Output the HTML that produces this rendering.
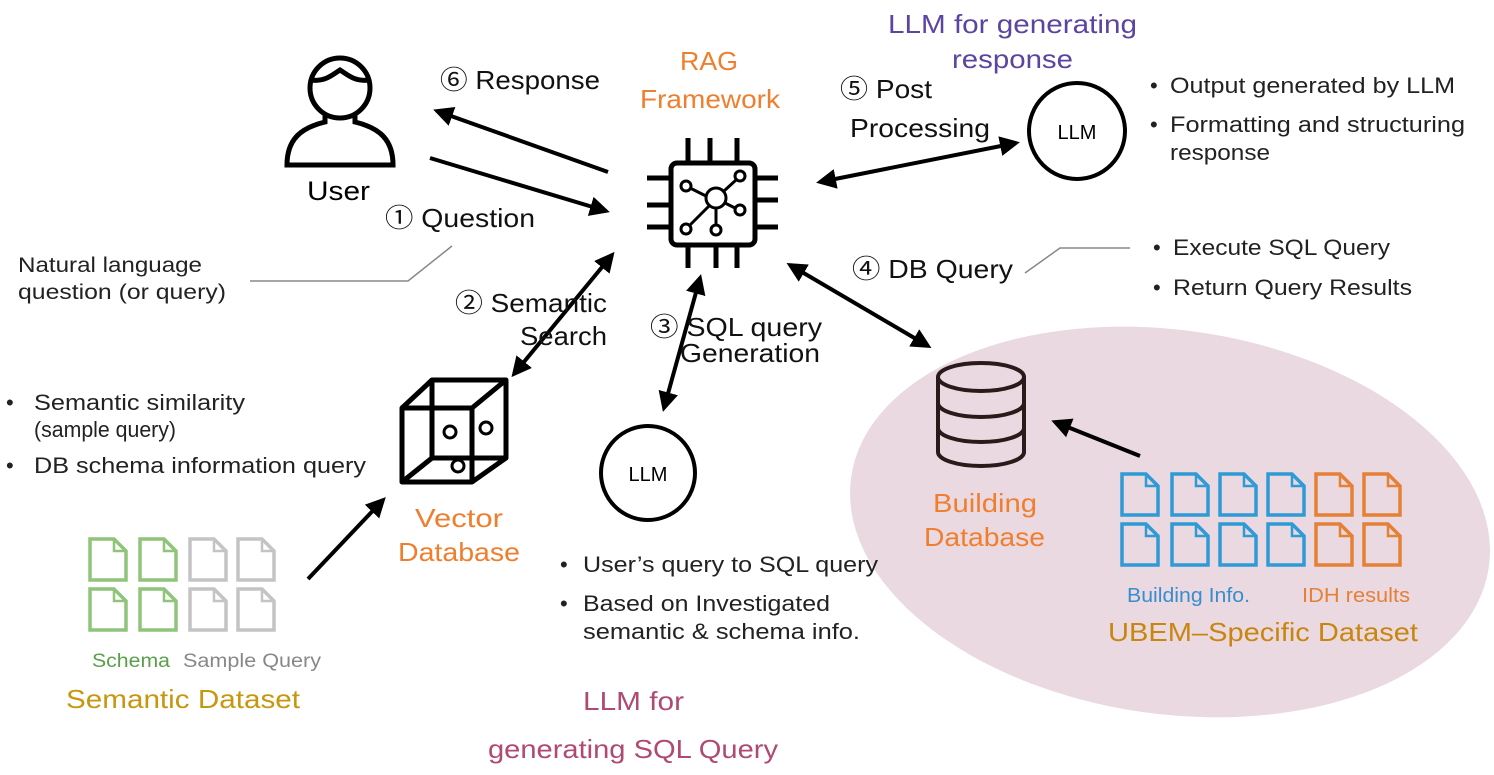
<!DOCTYPE html>
<html><head><meta charset="utf-8"><style>
html,body{margin:0;padding:0;background:#fff;}
svg{display:block;}
text{font-family:"Liberation Sans","Noto Sans CJK KR",sans-serif;}
</style></head><body>
<svg width="1494" height="775" viewBox="0 0 1494 775" xmlns="http://www.w3.org/2000/svg">
<defs>
<marker id="a" viewBox="0 0 10 10" refX="8" refY="5" markerWidth="5" markerHeight="5" orient="auto-start-reverse"><path d="M0,0 L10,5 L0,10 z" fill="#000"/></marker>
<g id="doc"><path d="M2,2 H26 L38,14 V43 H2 Z" fill="none" stroke-width="3.5"/><path d="M26,2 V14 H38" fill="none" stroke-width="2.5"/></g>
</defs>
<ellipse cx="1170" cy="522" rx="322" ry="192" transform="rotate(8 1170 522)" fill="#ead9e1"/>

<!-- User icon -->
<g fill="none" stroke="#000" stroke-width="5">
<circle cx="340" cy="88" r="30"/>
<path d="M311,80 C325,82 332,75 340,70 C348,75 355,82 369,80"/>
<path d="M325,115 V122 C300,128 287,140 287,165 H393 C393,140 380,128 355,122 V115"/>
</g>
<text x="307" y="200" font-size="27" textLength="63" lengthAdjust="spacingAndGlyphs">User</text>

<!-- Chip icon -->
<g fill="none" stroke="#000" stroke-width="5">
<rect x="671" y="163" width="84" height="82" rx="6"/>
<path d="M688,138 V162 M710,138 V162 M737,138 V162 M688,246 V268 M716,246 V268 M737,246 V268 M647,178 H670 M647,205 H670 M647,227 H670 M756,178 H778 M756,200 H778 M756,227 H778"/>
</g>
<g fill="none" stroke="#000" stroke-width="3">
<circle cx="716" cy="198" r="10"/><circle cx="686" cy="186" r="5"/><circle cx="740" cy="176" r="5"/><circle cx="740" cy="210" r="5"/><circle cx="686" cy="229" r="5"/><circle cx="716" cy="230" r="5"/>
<path d="M690,188 L706,196 M724,191 L736,180 M725,203 L735,208 M709,206 L690,225 M716,208 V225"/>
</g>
<g font-size="26" fill="#ef7f2f" lengthAdjust="spacingAndGlyphs">
<text x="680" y="70" textLength="58" lengthAdjust="spacingAndGlyphs">RAG</text>
<text x="640" y="108" textLength="140" lengthAdjust="spacingAndGlyphs">Framework</text>
</g>

<!-- Arrows -->
<g stroke="#000" stroke-width="4" fill="none">
<line x1="608" y1="172" x2="437" y2="111" marker-end="url(#a)"/>
<line x1="430" y1="158" x2="606" y2="211" marker-end="url(#a)"/>
<line x1="820" y1="182" x2="1016" y2="143" marker-start="url(#a)" marker-end="url(#a)"/>
<line x1="790" y1="265" x2="928" y2="346" marker-start="url(#a)" marker-end="url(#a)"/>
<line x1="612" y1="255" x2="514" y2="374" marker-start="url(#a)" marker-end="url(#a)"/>
<line x1="700" y1="278" x2="664" y2="408" marker-start="url(#a)" marker-end="url(#a)"/>
<line x1="308" y1="579" x2="383" y2="500" marker-end="url(#a)"/>
<line x1="1140" y1="456" x2="1055" y2="422" marker-end="url(#a)"/>
</g>
<g stroke="#888" stroke-width="1.5" fill="none">
<path d="M250,281 H408 L452,246"/>
<path d="M1025,273 L1060,248 H1130"/>
</g>

<!-- Labels -->
<g font-size="26" fill="#111">
<text x="440" y="89" textLength="160" lengthAdjust="spacingAndGlyphs">⑥ Response</text>
<text x="385" y="227" textLength="150" lengthAdjust="spacingAndGlyphs">① Question</text>
<text x="455" y="312" textLength="152" lengthAdjust="spacingAndGlyphs">② Semantic</text>
<text x="520" y="345" textLength="87" lengthAdjust="spacingAndGlyphs">Search</text>
<text x="650" y="336" textLength="172" lengthAdjust="spacingAndGlyphs">③ SQL query</text>
<text x="680" y="362" textLength="140" lengthAdjust="spacingAndGlyphs">Generation</text>
<text x="852" y="278" textLength="161" lengthAdjust="spacingAndGlyphs">④ DB Query</text>
<text x="840" y="98" textLength="92" lengthAdjust="spacingAndGlyphs">⑤ Post</text>
<text x="850" y="137" textLength="140" lengthAdjust="spacingAndGlyphs">Processing</text>
</g>
<g font-size="21" fill="#222">
<text x="18" y="272" textLength="184" lengthAdjust="spacingAndGlyphs">Natural language</text>
<text x="18" y="299" textLength="208" lengthAdjust="spacingAndGlyphs">question (or query)</text>
</g>

<!-- LLM response -->
<text x="888" y="33" font-size="26" fill="#5b45a0" textLength="249" lengthAdjust="spacingAndGlyphs">LLM for generating</text>
<text x="952" y="68" font-size="26" fill="#5b45a0" textLength="121" lengthAdjust="spacingAndGlyphs">response</text>
<circle cx="1077" cy="131" r="48" fill="none" stroke="#000" stroke-width="4"/>
<text x="1077" y="139" font-size="20" text-anchor="middle">LLM</text>
<g font-size="22" fill="#222">
<text x="1150" y="93">•</text><text x="1170" y="93" textLength="285" lengthAdjust="spacingAndGlyphs">Output generated by LLM</text>
<text x="1150" y="132">•</text><text x="1170" y="132" textLength="295" lengthAdjust="spacingAndGlyphs">Formatting and structuring</text>
<text x="1170" y="160" textLength="100" lengthAdjust="spacingAndGlyphs">response</text>
<text x="1153" y="255">•</text><text x="1173" y="255" textLength="217" lengthAdjust="spacingAndGlyphs">Execute SQL Query</text>
<text x="1153" y="295">•</text><text x="1173" y="295" textLength="239" lengthAdjust="spacingAndGlyphs">Return Query Results</text>
</g>

<!-- Vector DB cube -->
<g fill="none" stroke="#000" stroke-width="5" stroke-linejoin="round">
<rect x="402" y="408" width="70" height="74"/>
<rect x="432" y="380" width="74" height="78"/>
<path d="M402,408 L432,380 M472,408 L506,380 M402,482 L432,458 M472,482 L506,458"/>
</g>
<g fill="none" stroke="#000" stroke-width="3"><circle cx="450" cy="432" r="6"/><circle cx="486" cy="428" r="6"/><circle cx="458" cy="466" r="6"/></g>
<text x="415" y="527" font-size="26" fill="#ef7f2f" textLength="88" lengthAdjust="spacingAndGlyphs">Vector</text>
<text x="398" y="561" font-size="26" fill="#ef7f2f" textLength="122" lengthAdjust="spacingAndGlyphs">Database</text>
<g font-size="22" fill="#222">
<text x="6" y="410">•</text><text x="34" y="410" textLength="211" lengthAdjust="spacingAndGlyphs">Semantic similarity</text>
<text x="34" y="437" textLength="142" lengthAdjust="spacingAndGlyphs">(sample query)</text>
<text x="6" y="473">•</text><text x="34" y="473" textLength="332" lengthAdjust="spacingAndGlyphs">DB schema information query</text>
</g>

<!-- Semantic dataset docs -->
<g stroke="#8fc47a"><use href="#doc" x="88" y="537"/><use href="#doc" x="138" y="537"/><use href="#doc" x="88" y="587"/><use href="#doc" x="138" y="587"/></g>
<g stroke="#c4c4c4"><use href="#doc" x="188" y="537"/><use href="#doc" x="236" y="537"/><use href="#doc" x="188" y="587"/><use href="#doc" x="236" y="587"/></g>
<text x="92" y="667" font-size="19" fill="#5aa04a" textLength="78" lengthAdjust="spacingAndGlyphs">Schema</text>
<text x="183" y="667" font-size="19" fill="#888" textLength="138" lengthAdjust="spacingAndGlyphs">Sample Query</text>
<text x="66" y="708" font-size="26" fill="#c9960f" textLength="234" lengthAdjust="spacingAndGlyphs">Semantic Dataset</text>

<!-- SQL LLM -->
<circle cx="648" cy="473" r="47" fill="none" stroke="#000" stroke-width="4"/>
<text x="648" y="481" font-size="20" text-anchor="middle">LLM</text>
<g font-size="22" fill="#222">
<text x="560" y="572">•</text><text x="583" y="572" textLength="295" lengthAdjust="spacingAndGlyphs">User’s query to SQL query</text>
<text x="560" y="611">•</text><text x="583" y="611" textLength="247" lengthAdjust="spacingAndGlyphs">Based on Investigated</text>
<text x="583" y="639" textLength="277" lengthAdjust="spacingAndGlyphs">semantic &amp; schema info.</text>
</g>
<text x="583" y="710" font-size="26" fill="#b04a72" textLength="101" lengthAdjust="spacingAndGlyphs">LLM for</text>
<text x="488" y="758" font-size="26" fill="#b04a72" textLength="290" lengthAdjust="spacingAndGlyphs">generating SQL Query</text>

<!-- Database -->
<g fill="none" stroke="#2a1a1a" stroke-width="4">
<ellipse cx="981" cy="377" rx="43" ry="14"/>
<path d="M938,377 V452 A43,14 0 0 0 1024,452 V377"/>
<path d="M938,403 A43,14 0 0 0 1024,403 M938,428 A43,14 0 0 0 1024,428"/>
</g>
<text x="933" y="512" font-size="26" fill="#ef7f2f" textLength="104" lengthAdjust="spacingAndGlyphs">Building</text>
<text x="924" y="546" font-size="26" fill="#ef7f2f" textLength="121" lengthAdjust="spacingAndGlyphs">Database</text>

<!-- UBEM docs -->
<g stroke="#2e9ad6"><use href="#doc" x="1120" y="472"/><use href="#doc" x="1170" y="472"/><use href="#doc" x="1218" y="472"/><use href="#doc" x="1266" y="472"/>
<use href="#doc" x="1120" y="522"/><use href="#doc" x="1170" y="522"/><use href="#doc" x="1218" y="522"/><use href="#doc" x="1266" y="522"/></g>
<g stroke="#e58037"><use href="#doc" x="1314" y="472"/><use href="#doc" x="1362" y="472"/><use href="#doc" x="1314" y="522"/><use href="#doc" x="1362" y="522"/></g>
<text x="1127" y="602" font-size="20" fill="#3a8dcc" textLength="123" lengthAdjust="spacingAndGlyphs">Building Info.</text>
<text x="1302" y="602" font-size="20" fill="#e58037" textLength="108" lengthAdjust="spacingAndGlyphs">IDH results</text>
<text x="1108" y="641" font-size="26" fill="#c9860f" textLength="310" lengthAdjust="spacingAndGlyphs">UBEM–Specific Dataset</text>
</svg>
</body></html>
